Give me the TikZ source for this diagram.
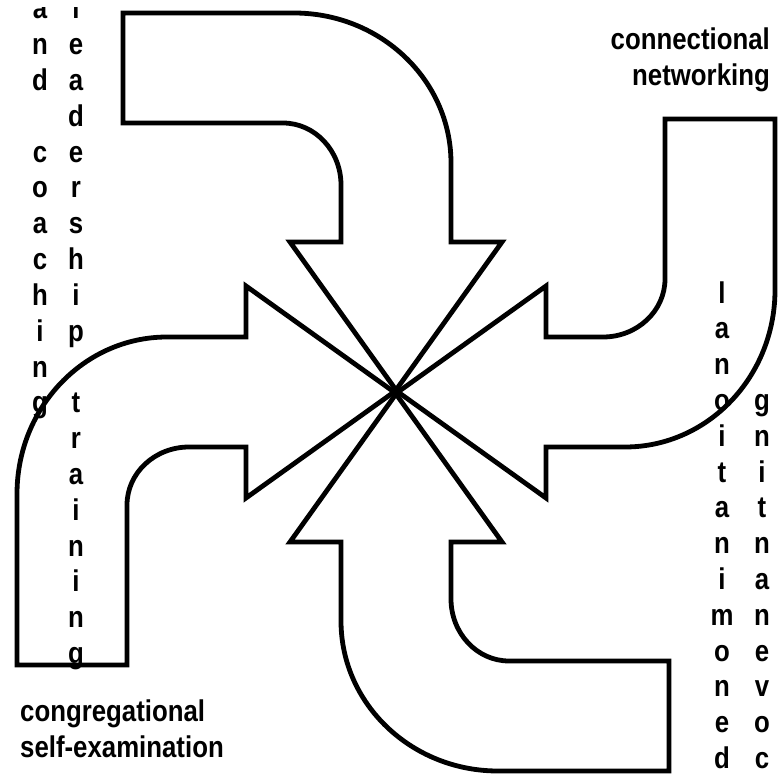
\documentclass[tikz,border=0pt]{standalone}
\usepackage{fontspec}
\setmainfont{Liberation Sans}[FakeStretch=0.86]
\begin{document}
\begin{tikzpicture}[x=1pt,y=-1pt,
  arrowline/.style={line width=4.8pt, draw=black, fill=white, line join=miter},
  pinarrow/.pic={
    \path[arrowline] (-273,-379) -- (-102,-379)
      .. controls (-15.3,-379) and (55,-311.8) .. (55,-229)
      -- (55,-150) -- (106,-150) -- (0,-2) -- (-106,-150) -- (-55,-150)
      -- (-55,-207)
      .. controls (-55,-241.2) and (-81,-269) .. (-113,-269)
      -- (-273,-269) -- cycle;
  },
  letter/.style={font=\bfseries\fontsize{30}{36}\selectfont, inner sep=0pt, anchor=base},
  lbl/.style={font=\bfseries\fontsize{30}{36}\selectfont, inner sep=0pt}
]
\useasboundingbox (0,0) rectangle (778,775);
\clip (0,0) rectangle (778,775);
\coordinate (C) at (396,392);
\pic[rotate=0] at (C) {pinarrow};
\pic[rotate=90] at (C) {pinarrow};
\pic[rotate=180] at (C) {pinarrow};
\pic[rotate=270] at (C) {pinarrow};
% first letters of the left columns, cut off at the top as in the reference
\begin{scope}
  \clip (0,8) rectangle (110,40);
  \node[letter] (ca0) at (40,19) {a};
  \node[letter] (cb0) at (76,19) {l};
\end{scope}
% vertical letter columns
\foreach \ch/\r in {n/1,d/2,c/4,o/5,a/6,c/7,h/8,i/9,n/10,g/11}
  \node[letter] (ca\r) at (40,{19+35.8*\r}) {\ch};
\foreach \ch/\r in {e/1,a/2,d/3,e/4,r/5,s/6,h/7,i/8,p/9,t/11,r/12,a/13,i/14,n/15,i/16,n/17,g/18}
  \node[letter] (cb\r) at (76,{19+35.8*\r}) {\ch};
\foreach \ch/\r in {l/0,a/1,n/2,o/3,i/4,t/5,a/6,n/7,i/8,m/9,o/10,n/11,e/12,d/13}
  \node[letter] (cc\r) at (722,{303+35.8*\r}) {\ch};
\foreach \ch/\r in {g/3,n/4,i/5,t/6,n/7,a/8,n/9,e/10,v/11,o/12,c/13}
  \node[letter] (cd\r) at (762,{303+35.8*\r}) {\ch};
% labels (base anchor = baseline of the last line)
\node[lbl, anchor=base east, align=right] (cn) at (770,86) {connectional\\networking};
\node[lbl, anchor=base west, align=left] (cs) at (20,757) {congregational\\self-examination};
\end{tikzpicture}
\end{document}
